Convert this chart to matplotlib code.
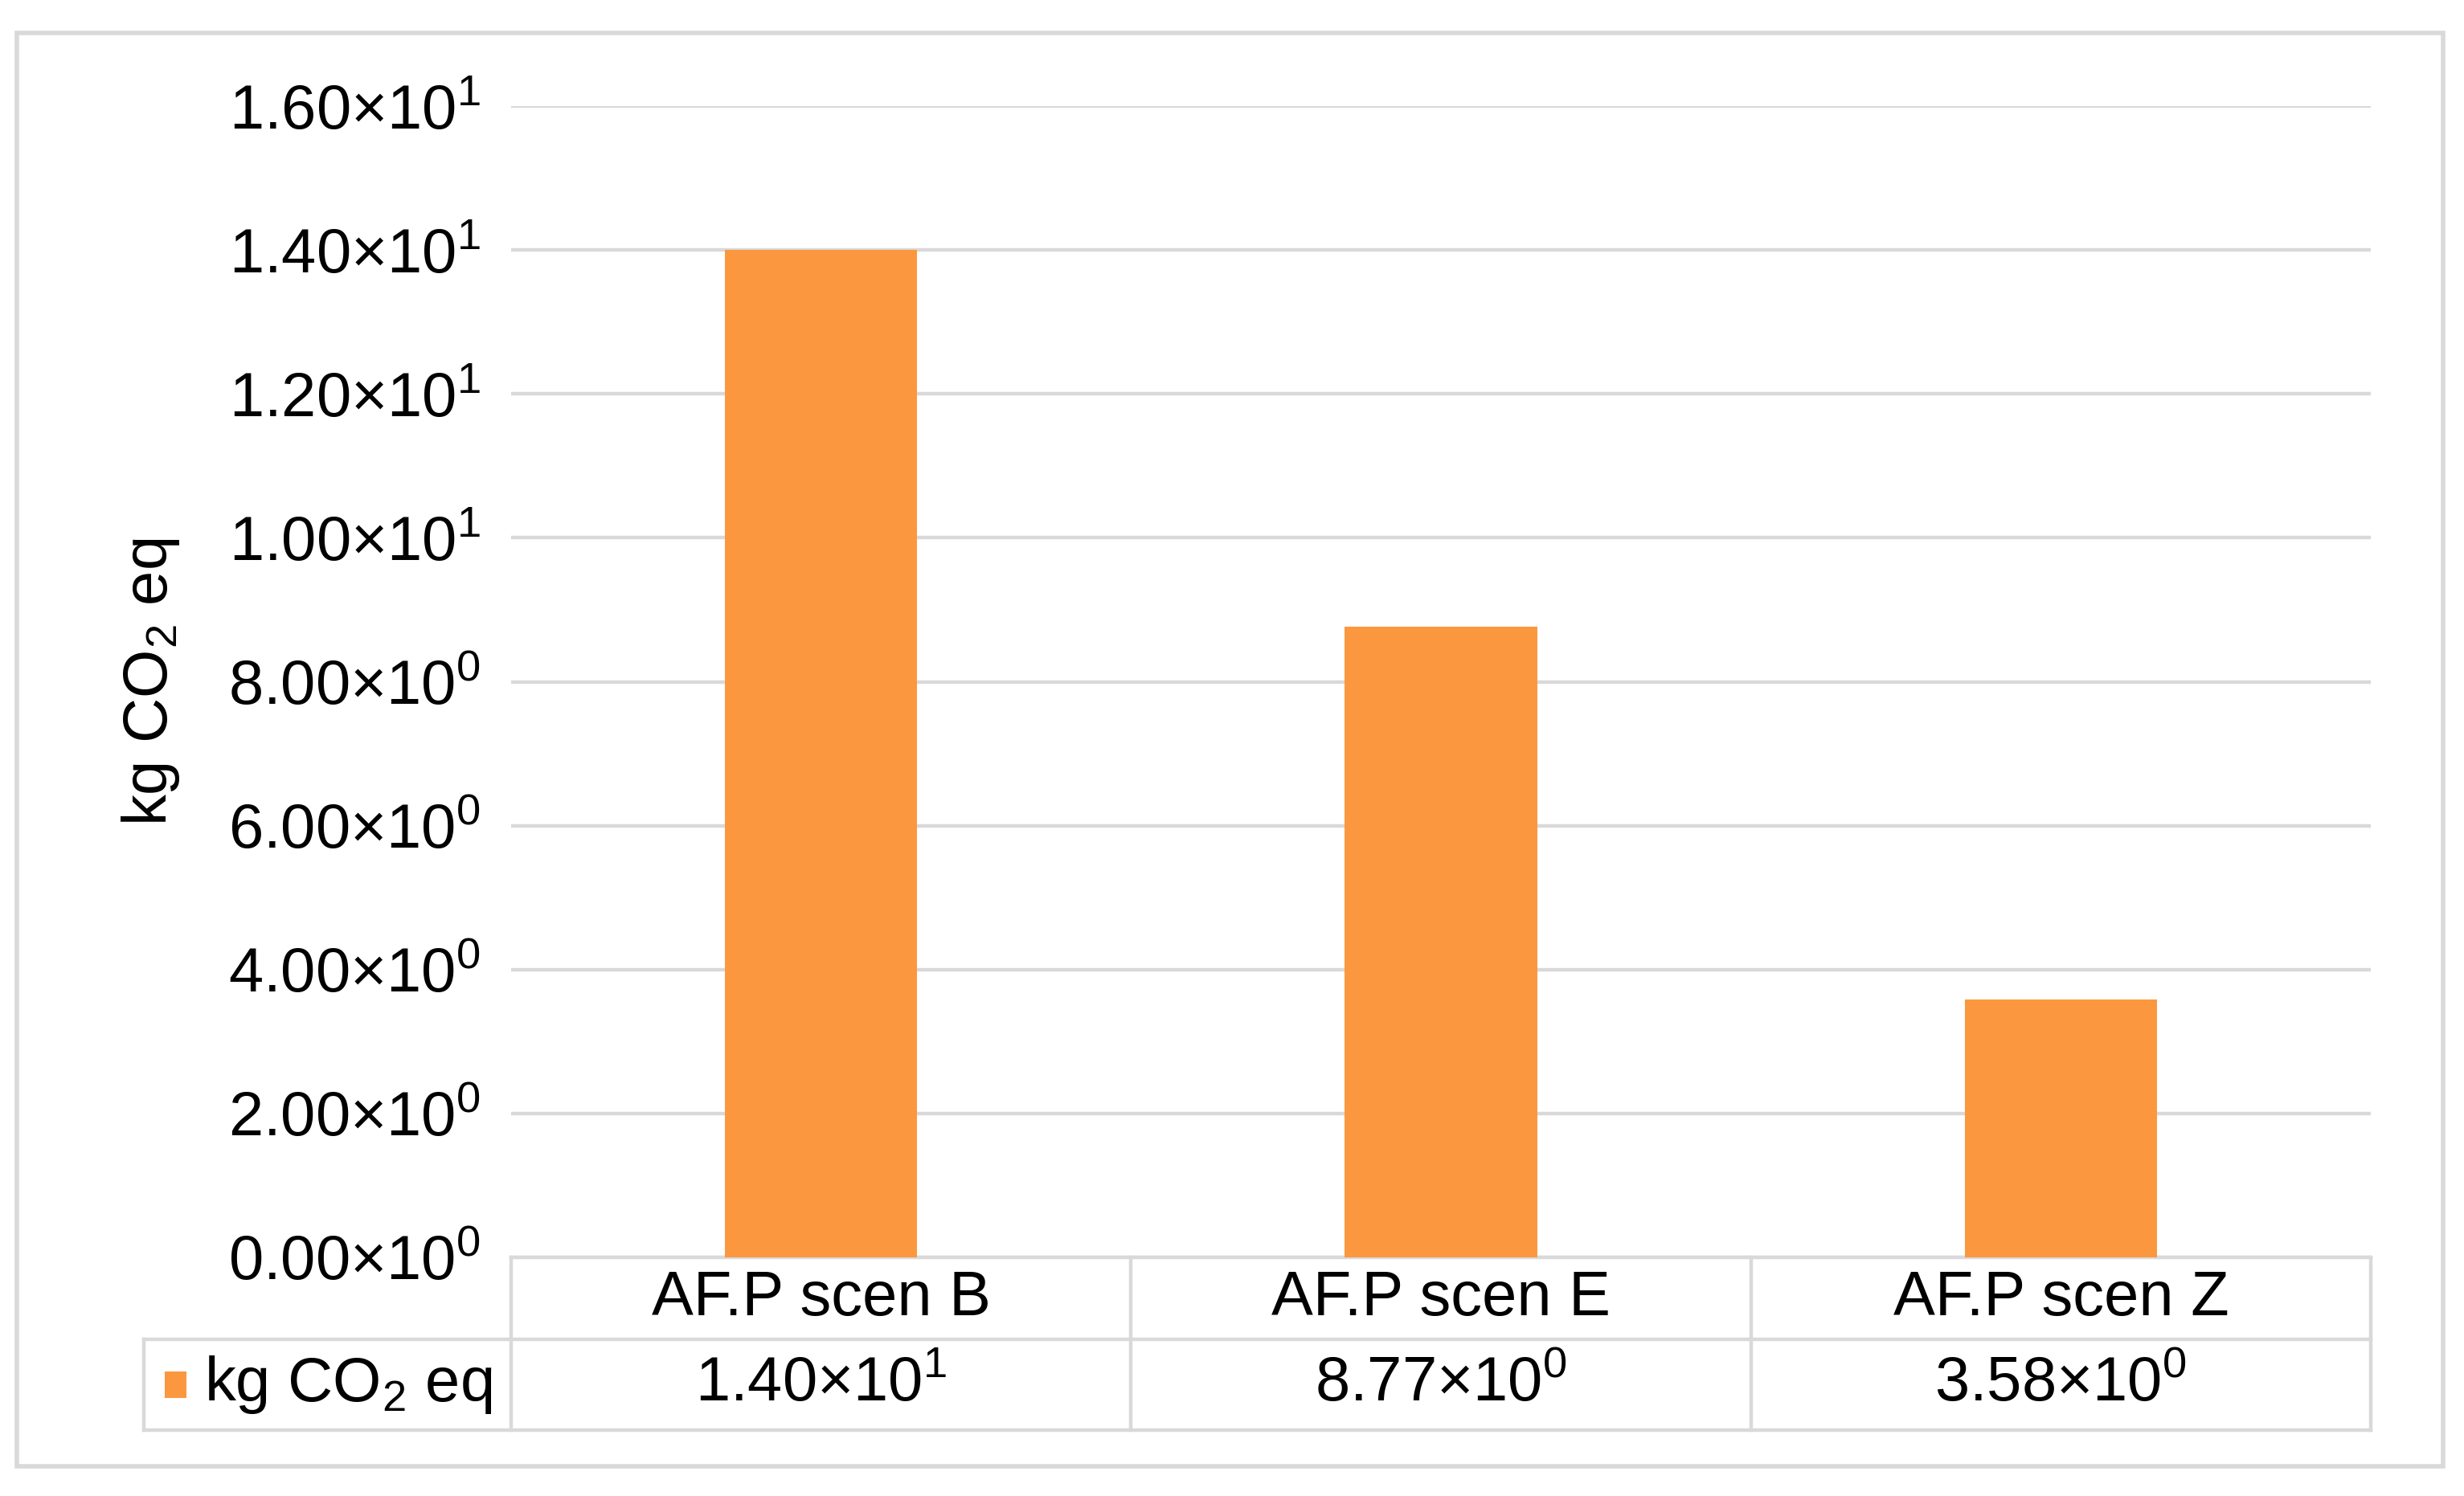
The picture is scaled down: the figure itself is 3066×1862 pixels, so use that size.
"""
Bar chart with Excel-style data table: kg CO2 eq per AF.P scenario.
Output: out.png
"""
import matplotlib
matplotlib.use("Agg")
import matplotlib.pyplot as plt
import matplotlib.ticker as mticker
import matplotlib.transforms as mtransforms
from matplotlib.patches import Rectangle
from matplotlib.lines import Line2D
import numpy as np

plt.rcParams.update({
    "font.family":      ["Liberation Sans", "DejaVu Sans"],
    "font.size":        28,
    "mathtext.fontset": "custom",
    "mathtext.rm":      "Liberation Sans",
    "mathtext.it":      "Liberation Sans:italic",
    "mathtext.bf":      "Liberation Sans:bold",
})

# Data
categories  = ["AF.P scen B", "AF.P scen E", "AF.P scen Z"]
values      = [14.0, 8.77, 3.58]
series_name = r"kg CO$_2$ eq"
y_ticks     = [0, 2, 4, 6, 8, 10, 12, 14, 16]

BAR_COLOR  = "#FB983F"
GRID_COLOR = "#D9D9D9"
TEXT_COLOR = "#000000"


def sci_label(v, pos=None):
    if v == 0:
        exp = 0
    else:
        exp = int(np.floor(np.log10(abs(v))))
    mant = v / 10 ** exp
    return f"{mant:.2f}×10$^{{{exp}}}$"


# Figure
W, H = 3066, 1862
DPI = 200
fig = plt.figure(figsize=(W / DPI, H / DPI), dpi=DPI)

left, right = 636 / W, 2950 / W
top, bottom = 1 - 132 / H, 1 - 1565 / H
ax = fig.add_axes([left, bottom, right - left, top - bottom])

x = np.arange(len(categories))
ax.bar(x, values, width=0.31, color=BAR_COLOR, zorder=3)

ax.set_xlim(-0.5, len(categories) - 0.5)
ax.set_ylim(0, 16)
ax.set_yticks(y_ticks)
ax.yaxis.set_major_formatter(mticker.FuncFormatter(sci_label))
ax.set_xticks([])
ax.tick_params(axis="y", length=0, pad=13.5, labelsize=28, colors=TEXT_COLOR)
for s in ax.spines.values():
    s.set_visible(False)
ax.yaxis.grid(True, color=GRID_COLOR, linewidth=1.6, zorder=0)
ax.set_axisbelow(True)

ax.set_ylabel(series_name, fontsize=28, labelpad=21)

# Data table below the plot (axes-fraction y, data x)
ax_h_px = 1565 - 132
row1 = -(1667 - 1565) / ax_h_px
row2 = -(1780 - 1565) / ax_h_px
legend_left = (179 - 636) / (2950 - 636)

blend = mtransforms.blended_transform_factory(ax.transData, ax.transAxes)
lkw = dict(color=GRID_COLOR, linewidth=1.6, clip_on=False)

x0, x1 = -0.5, len(categories) - 0.5
# horizontal lines
ax.add_line(Line2D([x0, x1], [0, 0], transform=blend, **lkw))
ax.plot([legend_left, 1], [row1, row1], transform=ax.transAxes, **lkw)
ax.plot([legend_left, 1], [row2, row2], transform=ax.transAxes, **lkw)
# vertical lines
for xb in np.arange(len(categories) + 1) - 0.5:
    ax.add_line(Line2D([xb, xb], [0, row2], transform=blend, **lkw))
ax.plot([legend_left, legend_left], [row1, row2], transform=ax.transAxes, **lkw)

# table text
for xi, cat, val in zip(x, categories, values):
    ax.text(xi, row1 / 2, cat, transform=blend, ha="center", va="center",
            fontsize=28, color=TEXT_COLOR)
    ax.text(xi, (row1 + row2) / 2, sci_label(val), transform=blend,
            ha="center", va="center", fontsize=28, color=TEXT_COLOR)

# legend key in the table
key_w = (232 - 205) / (2950 - 636)
key_h = (1740 - 1707) / ax_h_px
key_x = (205 - 636) / (2950 - 636)
key_y = (row1 + row2) / 2 - key_h / 2
ax.add_patch(Rectangle((key_x, key_y), key_w, key_h, transform=ax.transAxes,
                       facecolor=BAR_COLOR, edgecolor="none", clip_on=False))
ax.text((254 - 636) / (2950 - 636), (row1 + row2) / 2, series_name,
        transform=ax.transAxes, ha="left", va="center", fontsize=28,
        color=TEXT_COLOR)

# outer chart frame
fig.patches.append(Rectangle((21 / W, 1 - 1825 / H), (3040 - 21) / W,
                             (1825 - 41) / H, transform=fig.transFigure,
                             facecolor="none", edgecolor=GRID_COLOR,
                             linewidth=2.0))

fig.savefig("out.png", dpi=DPI, facecolor="white")
plt.close(fig)
